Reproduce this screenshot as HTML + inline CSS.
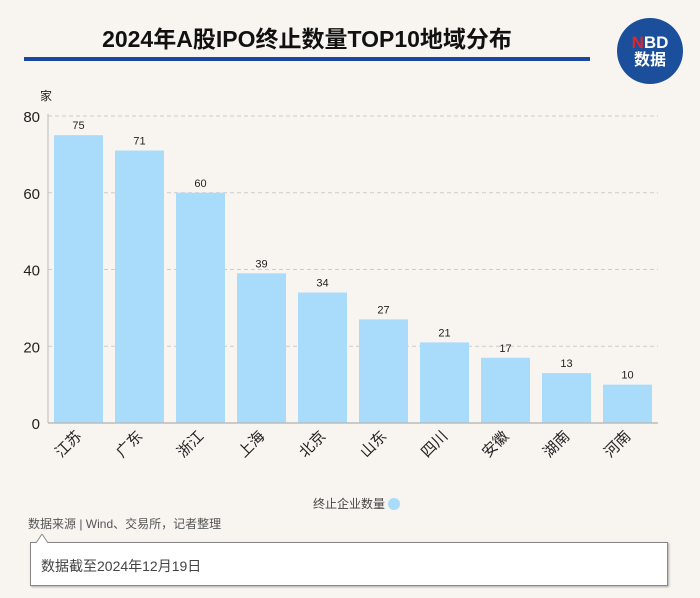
<!DOCTYPE html>
<html><head><meta charset="utf-8"><style>
body{margin:0;width:700px;height:598px;background:#f8f5f0;font-family:"Liberation Sans","Noto Sans CJK SC",sans-serif;overflow:hidden;position:relative}
</style></head><body>
<div style="position:absolute;left:0;width:614px;top:20px;text-align:center;font-size:23px;font-weight:bold;color:#111">2024年A股IPO终止数量TOP10地域分布</div>
<div style="position:absolute;left:24px;top:57px;width:566px;height:4px;background:#1a47a0"></div>
<div style="position:absolute;left:617px;top:18px;width:66px;height:66px;border-radius:50%;background:#1b4f9c;color:#fff;text-align:center;font-weight:bold;line-height:1">
<div style="margin-top:16px;font-size:17px"><span style="color:#e0262c">N</span>BD</div><div style="font-size:16px;margin-top:2px">数据</div></div>
<svg id="chart" width="700" height="598" style="position:absolute;left:0;top:0"></svg>
<div style="position:absolute;left:313px;top:495px;font-size:12px;color:#444">终止企业数量 <span style="display:inline-block;width:12px;height:12px;border-radius:50%;background:#a8dcfa;vertical-align:-2px"></span></div>
<div style="position:absolute;left:28px;top:515px;font-size:12px;color:#555">数据来源 | Wind、交易所，记者整理</div>
<div style="position:absolute;left:30px;top:542px;width:638px;height:44px;background:#fff;border:1px solid #888;box-shadow:1px 1px 2px #aaa;font-size:14px;color:#444;line-height:46px;padding-left:10px;box-sizing:border-box">数据截至2024年12月19日</div>
<svg width="20" height="12" style="position:absolute;left:36px;top:534px"><path d="M0 9 L6 0 L12 9" fill="#fff" stroke="#888"/></svg>
<script>
const categories=["江苏","广东","浙江","上海","北京","山东","四川","安徽","湖南","河南"];
const values=[75,71,60,39,34,27,21,17,13,10];
const ticks=[0,20,40,60,80];
const svg=document.getElementById('chart');const NS='http://www.w3.org/2000/svg';
const x0=48,x1=658,yTop=116,yBot=423,maxV=80;
const band=(x1-x0)/categories.length;
const y=v=>yBot-(v/maxV)*(yBot-yTop);
const xc=i=>x0+band*(i+0.5);
function mk(t,a){const e=document.createElementNS(NS,t);for(const k in a)e.setAttribute(k,a[k]);svg.appendChild(e);return e;}
ticks.forEach(t=>{
 if(t>0){const l=mk('line',{x1:x0,x2:x1,y1:y(t),y2:y(t),stroke:'#ccc','stroke-dasharray':'4,3'});
 
 }
 const tx=mk('text',{x:40,y:y(t)+6,'text-anchor':'end','font-size':15,fill:'#222'});tx.textContent=t;
 
 
});
const u=mk('text',{x:40,y:100,'font-size':12,fill:'#222'});u.textContent='家';


categories.forEach((c,i)=>{
 const bw=49;
 const r=mk('rect',{x:xc(i)-bw/2,y:y(values[i]),width:bw,height:yBot-y(values[i]),fill:'#a8dcfa'});
 
 
 const v=mk('text',{x:xc(i),y:y(values[i])-6,'text-anchor':'middle','font-size':11,fill:'#222'});v.textContent=values[i];
 
 
 const lx=xc(i)+4,ly=437;
 const l=mk('text',{x:lx,y:ly,'text-anchor':'end','font-size':15,fill:'#222',transform:`rotate(-45 ${lx} ${ly})`});l.textContent=c;
 
 
});
const ax=mk('line',{x1:x0,x2:x1,y1:yBot,y2:yBot,stroke:'#bbb','stroke-width':1.5});


const ay=mk('line',{x1:x0,x2:x0,y1:yTop-2,y2:yBot,stroke:'#bbb'});


</script>
</body></html>
